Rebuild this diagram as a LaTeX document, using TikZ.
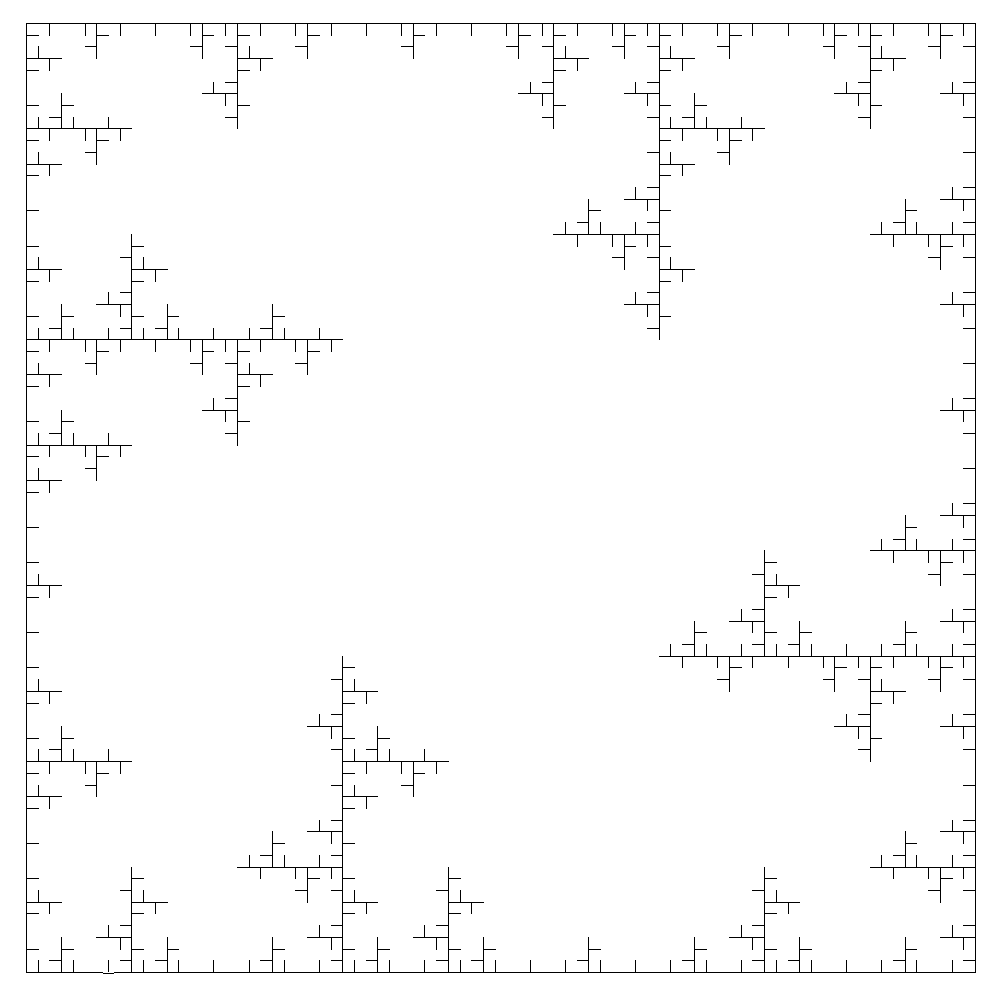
\documentclass[tikz,border=0pt]{standalone}

\tikzset{
	treeline/.style={black,line width=0.02cm,line cap=rect},
}

% one edge: depth, then start and end point
\newcommand{\treeedge}[5]{%
	\ifnum#1=0
		\draw[treeline] (#2,#3) -- (#4,#5);
	\else
		\begingroup
			\pgfmathsetmacro{\dx}{(#4-#2)/3}
			\pgfmathsetmacro{\dy}{(#5-#3)/3}
			\pgfmathsetmacro{\ax}{#2+\dx}
			\pgfmathsetmacro{\ay}{#3+\dy}
			\pgfmathsetmacro{\bx}{#2+2*\dx}
			\pgfmathsetmacro{\by}{#3+2*\dy}
			\pgfmathsetmacro{\lx}{\ax+\dy}
			\pgfmathsetmacro{\ly}{\ay-\dx}
			\pgfmathsetmacro{\rx}{\bx-\dy}
			\pgfmathsetmacro{\ry}{\by+\dx}
			\pgfmathtruncatemacro{\nextdepth}{#1-1}
			\edef\treeparts{%
				\noexpand\treeedge{\nextdepth}{#2}{#3}{\ax}{\ay}%
				\noexpand\treeedge{\nextdepth}{\ax}{\ay}{\bx}{\by}%
				\noexpand\treeedge{\nextdepth}{\bx}{\by}{#4}{#5}%
				\noexpand\treeedge{\nextdepth}{\ax}{\ay}{\lx}{\ly}%
				\noexpand\treeedge{\nextdepth}{\bx}{\by}{\rx}{\ry}%
			}
			\treeparts
		\endgroup
	\fi
}

\begin{document}
\begin{tikzpicture}[x=0.02cm,y=-0.02cm]
	\useasboundingbox (0,0) rectangle (1000,999);
	\begin{scope}
		\clip (26.5,23.5) rectangle (975.5,972.5);
		\treeedge{4}{26.5}{972.5}{26.5}{23.5}
		\treeedge{4}{26.5}{23.5}{975.5}{23.5}
		\treeedge{4}{975.5}{23.5}{975.5}{972.5}
		\treeedge{4}{975.5}{972.5}{26.5}{972.5}
	\end{scope}
	\draw[treeline] (26.5,23.5) rectangle (975.5,972.5);
	% the one piece of the bottom edge that sits lower
	\draw[white,line width=0.02cm] (103,972.5) -- (114,972.5);
	\draw[black,line width=0.02cm] (103,973.5) -- (114,973.5);
\end{tikzpicture}
\end{document}
